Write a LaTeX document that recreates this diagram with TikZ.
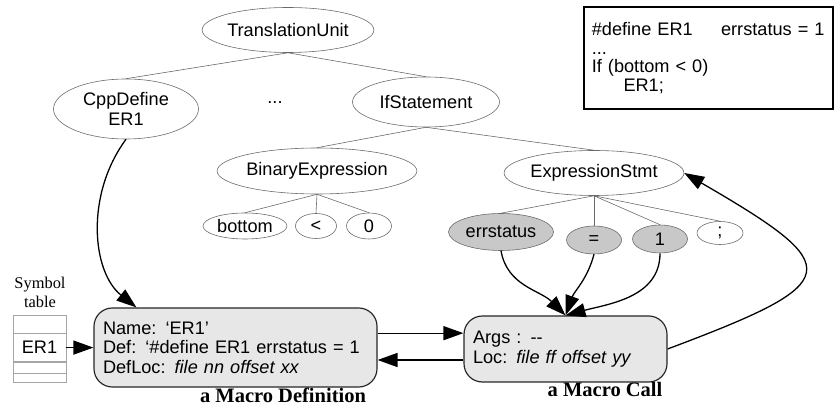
\documentclass[tikz,border=0pt]{standalone}
\usepackage{fontspec}
\setmainfont{Liberation Sans}
\newfontfamily\capfont{Liberation Serif}
\usetikzlibrary{arrows.meta, positioning, calc, shapes.geometric}
\definecolor{hitfill}{RGB}{200,200,200}
\definecolor{boxfill}{RGB}{231,231,231}
\definecolor{treeline}{RGB}{105,105,105}
\newcommand{\labelfont}{\fontsize{15.5}{17}\selectfont}

\begin{document}
\begin{tikzpicture}[
    tnode/.style={ellipse, draw=treeline, line width=0.5pt, inner sep=0pt, align=center, font=\labelfont},
    hitnode/.style={tnode, fill=hitfill},
    tedge/.style={draw=treeline, line width=0.5pt},
    macrobox/.style={draw=black!85, line width=1pt, rounded corners=0.55cm, fill=boxfill, align=left, inner sep=0.27cm, font=\fontsize{15.5}{16.6}\selectfont},
    symrow/.style={draw=gray!70, line width=0.5pt, minimum width=1.59cm, inner sep=0pt, font=\labelfont},
    caption/.style={anchor=base, font=\capfont\bfseries\fontsize{17.5}{19}\selectfont},
    arrow/.style={-{Triangle[length=6mm, width=4.2mm]}, line width=1.1pt}
]
\useasboundingbox (0,0) rectangle (25.11,12.24);

% AST
\node[tnode, minimum width=5.07cm, minimum height=1.35cm] (tu) at (8.64, 11.34) {TranslationUnit};
\node[tnode, minimum width=4.35cm, minimum height=1.8cm] (cpp) at (3.78, 8.97) {CppDefine\\ER1};
\node[font=\labelfont] (dots) at (8.25, 9.15) {...};
\node[tnode, minimum width=4.41cm, minimum height=1.5cm] (ifst) at (12.78, 9.18) {IfStatement};
\node[tnode, minimum width=5.7cm, minimum height=1.38cm] (binexp) at (9.51, 7.11) {BinaryExpression};
\node[tnode, minimum width=5.31cm, minimum height=1.35cm] (exprst) at (17.82, 7.05) {ExpressionStmt};

\node[tnode, minimum width=2.52cm, minimum height=0.78cm] (bottom) at (7.35, 5.46) {bottom};
\node[tnode, minimum width=1.23cm, minimum height=0.75cm] (lt) at (9.48, 5.46) {<};
\node[tnode, minimum width=1.35cm, minimum height=0.78cm] (zero) at (11.07, 5.46) {0};

\node[hitnode, minimum width=3.15cm, minimum height=1.11cm] (errst) at (15.03, 5.28) {errstatus};
\node[hitnode, minimum width=1.65cm, minimum height=0.84cm] (assign) at (17.82, 5.04) {=};
\node[hitnode, minimum width=1.65cm, minimum height=0.84cm] (one) at (19.8, 5.07) {1};
\node[tnode, minimum width=1.38cm, minimum height=0.69cm] (semi) at (21.6, 5.25) {;};

\draw[tedge] (tu.south) -- (cpp.north);
\draw[tedge] (tu.south) -- (ifst.north);
\draw[tedge] (ifst.south) -- (binexp.north);
\draw[tedge] (ifst.south) -- (exprst.north);
\foreach \c in {bottom, lt, zero}
    \draw[tedge] (binexp.south) -- (\c.north);
\foreach \c in {errst, assign, one, semi}
    \draw[tedge] (exprst.south) -- (\c.north);

% source code
\node[draw, line width=1pt, minimum width=7.47cm, minimum height=3.06cm, text width=7.0cm, align=left, inner xsep=0.235cm, font=\fontsize{15.5}{16.2}\selectfont] (code) at (21.255, 10.5)
    {\#define ER1\hspace{0.85cm}errstatus = 1\\
     ...\\[-1pt]
     If (bottom < 0)\\
     \hspace*{0.95cm}ER1;};

% symbol table
\node[align=center, font=\capfont\fontsize{14}{16}\selectfont] (symlbl) at (1.2, 3.47) {Symbol\\table};
\node[symrow, minimum height=0.54cm] (sym0) at (1.185, 2.52) {};
\node[symrow, minimum height=0.84cm, below=0pt of sym0] (er1) {ER1};
\node[symrow, minimum height=0.33cm, below=0pt of er1] (sym2) {};
\node[symrow, minimum height=0.27cm, below=0pt of sym2] (sym3) {};

% macro records
\node[macrobox, minimum width=8.49cm, minimum height=2.37cm, text width=7.95cm] (def) at (7.065, 1.815)
    {Name: `ER1'\\Def: `\#define ER1 errstatus = 1\\DefLoc: \textit{file nn offset xx}};
\node[macrobox, minimum width=6.09cm, minimum height=1.98cm, text width=5.55cm] (call) at (16.965, 1.77)
    {Args : {-}{-}\\Loc: \textit{file ff offset yy}};
\node[caption] (deflbl) at (8.49, 0.15) {a Macro Definition};
\node[caption] (calllbl) at (18.15, 0.33) {a Macro Call};

% links
\draw[arrow] (er1.east) -- (er1.east -| def.west);
\draw[arrow] (cpp.south) .. controls (2.55, 6.39) and (2.76, 4.08) .. ($(def.north west)+(1.29,0)$);
\draw[arrow] ($(def.east)+(0,0.43)$) coordinate (d1) -- (d1 -| call.west);
\draw[arrow] ($(call.west)+(0,-0.33)$) coordinate (c1) -- (c1 -| def.east);
\draw[arrow] (errst.south) to[out=-80, in=135] (call.north);
\draw[arrow] (assign.south) to[out=-105, in=70] (call.north);
\draw[arrow] (one.south) to[out=-90, in=15] (call.north);
\draw[arrow] (call.east) .. controls (25.38, 3.78) and (25.44, 4.2) .. (exprst.east);

\end{tikzpicture}
\end{document}
